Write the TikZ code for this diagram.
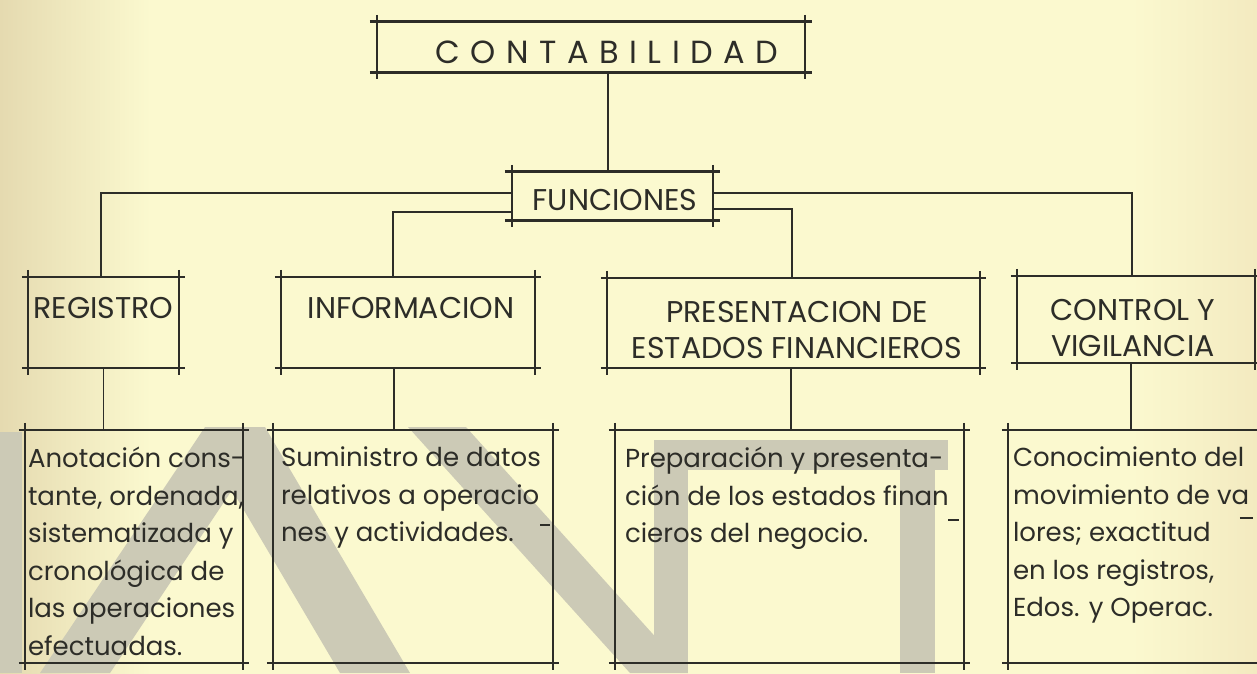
\documentclass[tikz,border=0pt]{standalone}
\usepackage{fontspec}
\setmainfont{Poppins}
\usetikzlibrary{positioning}
\definecolor{papermid}{RGB}{251,249,207}
\definecolor{paperleft}{RGB}{229,218,176}
\definecolor{paperright}{RGB}{243,234,192}
\definecolor{ink}{RGB}{45,45,40}
\definecolor{stamp}{RGB}{204,202,182}
\pgfdeclarehorizontalshading{paper}{100bp}{color(0bp)=(paperleft); color(25bp)=(paperleft); color(31bp)=(papermid); color(70bp)=(papermid); color(75bp)=(paperright); color(100bp)=(paperright)}
\tikzset{
    frame/.style={
        inner sep=0pt
    },
    rule/.style={
        draw=ink,
        line width=1.8pt
    },
    heavyrule/.style={
        draw=ink,
        line width=3.2pt
    },
    headtext/.style={
        inner sep=0pt,
        align=center,
        text=ink,
        font=\fontsize{30}{36}\selectfont
    },
    desctext/.style={
        inner sep=0pt,
        align=left,
        anchor=north west,
        text=ink,
        font=\fontsize{26}{37.5}\selectfont
    },
    stampmark/.style={
        fill=stamp,
        draw=none
    }
}
\begin{document}
\begin{tikzpicture}[x=1pt, y=-1pt]
    \useasboundingbox (0,0) rectangle (1257,673);
    \shade[shading=paper] (0,0) rectangle (1257,673);

    % faint stamp behind the lower boxes
    \fill[stampmark] (0,432) rectangle (22,673);
    \fill[stampmark] (40,673) -- (205,427) -- (265,427) -- (410,673) -- (340,673) -- (232,490) -- (110,673) -- cycle;
    \fill[stampmark] (408,427) -- (466,427) -- (688,673) -- (630,673) -- cycle;
    \fill[stampmark] (654,440) rectangle (688,673);
    \fill[stampmark] (654,440) rectangle (948,470);
    \fill[stampmark] (900,440) rectangle (935,673);

    % title and functions
    \node[frame, minimum width=428pt, minimum height=50pt] (conta) at (591,47) {};
    \node[headtext, font=\fontsize{32}{38}\selectfont] (contatxt) at (607,52) {\spaceskip=10.5pt C O N T A B I L I D A D};
    \node[frame, minimum width=201pt, minimum height=48pt] (func) at (612.5,196) {};
    \node[headtext] (functxt) at (615,200) {FUNCIONES};

    % the four functions
    \node[frame, minimum width=151pt, minimum height=91pt] (reg) at (103.5,322.5) {};
    \node[frame, minimum width=254pt, minimum height=91pt] (info) at (408,322.5) {};
    \node[frame, minimum width=373pt, minimum height=90pt] (pres) at (793.5,323) {};
    \node[frame, minimum width=238pt, minimum height=87pt] (ctrl) at (1136,319.5) {};

    \node[headtext, below=20.5pt of reg.north] (regtxt) {REGISTRO};
    \node[headtext, below=20.5pt of info.north, xshift=3pt] (infotxt) {INFORMACION};
    \node[headtext, below=23pt of pres.north, xshift=3.5pt] (prestxt) {PRESENTACION DE\\ESTADOS FINANCIEROS};
    \node[headtext, below=23pt of ctrl.north, xshift=-3pt] (ctrltxt) {CONTROL Y\\VIGILANCIA};

    % descriptions
    \node[frame, minimum width=218pt, minimum height=233pt] (d1) at (134,546.5) {};
    \node[frame, minimum width=280pt, minimum height=233pt] (d2) at (413,546.5) {};
    \node[frame, minimum width=349pt, minimum height=233pt] (d3) at (789.5,546.5) {};
    \node[frame, minimum width=267pt, minimum height=233pt] (d4) at (1141.5,546.5) {};

    \node[desctext] (d1txt) at ([xshift=3pt, yshift=-17pt]d1.north west) {
        Anotación cons-\\
        tante, ordenada,\\
        sistematizada y\\
        cronológica de\\
        las operaciones\\
        efectuadas.
    };
    \node[desctext] (d2txt) at ([xshift=8pt, yshift=-17pt]d2.north west) {
        Suministro de datos\\
        relativos a operacio\\
        nes y actividades.
    };
    \node[desctext] (d3txt) at ([xshift=10pt, yshift=-17pt]d3.north west) {
        Preparación y presenta-\\
        ción de los estados finan\\
        cieros del negocio.
    };
    \node[desctext] (d4txt) at ([xshift=5pt, yshift=-17pt]d4.north west) {
        Conocimiento del\\
        movimiento de va\\
        lores; exactitud\\
        en los registros,\\
        Edos. y Operac.
    };

    % hand drawn frames
    \foreach \n in {reg,info,pres,ctrl,d1,d2,d3,d4}{
        \draw[rule] ([xshift=-6pt]\n.north west) -- ([xshift=6pt]\n.north east);
        \draw[rule] ([xshift=-6pt]\n.south west) -- ([xshift=6pt]\n.south east);
        \draw[rule] ([yshift=7pt]\n.north west) -- ([yshift=-7pt]\n.south west);
        \draw[rule] ([yshift=7pt]\n.north east) -- ([yshift=-7pt]\n.south east);
    }
    \foreach \n in {conta,func}{
        \draw[heavyrule] ([xshift=-7pt]\n.north west) -- ([xshift=7pt]\n.north east);
        \draw[heavyrule] ([xshift=-7pt]\n.south west) -- ([xshift=7pt]\n.south east);
        \draw[rule] ([yshift=7pt]\n.north west) -- ([yshift=-7pt]\n.south west);
        \draw[rule] ([yshift=7pt]\n.north east) -- ([yshift=-7pt]\n.south east);
    }

    % connectors
    \draw[rule] ([xshift=-4.5pt]func.north |- conta.south) -- ([xshift=-4.5pt]func.north);
    \draw[rule] ([yshift=3pt]func.west) -| ([xshift=-2.5pt]reg.north);
    \draw[rule] ([yshift=-16pt]func.west) -| ([xshift=-15pt]info.north);
    \draw[rule] ([yshift=3pt]func.east) -| ([xshift=-4pt]ctrl.north);
    \draw[rule] ([yshift=-13pt]func.east) -| ([xshift=-1.5pt]pres.north);

    \draw[rule] (reg.south) -- (reg.south |- d1.north);
    \draw[rule] ([xshift=-14pt]info.south) -- ([xshift=-14pt]info.south |- d2.north);
    \draw[rule] ([xshift=-2.5pt]pres.south) -- ([xshift=-2.5pt]pres.south |- d3.north);
    \draw[rule] ([xshift=-5pt]ctrl.south) -- ([xshift=-5pt]ctrl.south |- d4.north);

    % split word marks
    \draw[rule, line width=1.6pt] ([xshift=-13pt, yshift=-95pt]d2.north east) -- ++(10,0);
    \draw[rule, line width=1.6pt] ([xshift=-16pt, yshift=-90pt]d3.north east) -- ++(11,0);
    \draw[rule, line width=1.6pt] ([xshift=232pt, yshift=-88pt]d4.north west) -- ++(13,0);
\end{tikzpicture}
\end{document}
